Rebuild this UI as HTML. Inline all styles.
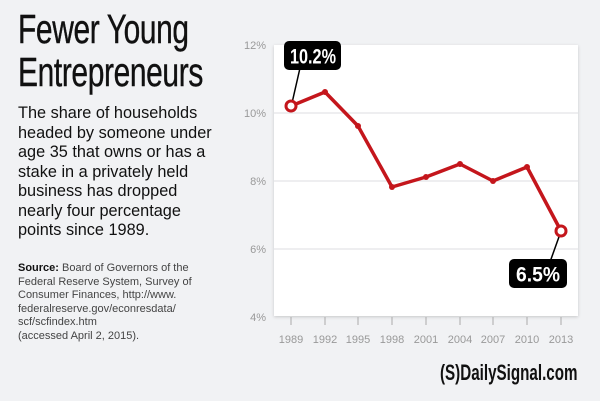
<!DOCTYPE html>
<html><head><style>
html,body{margin:0;padding:0}
body{width:600px;height:401px;background:#f1f2f4;position:relative;overflow:hidden;font-family:"Liberation Sans",sans-serif;color:#111}
.t{position:absolute;left:18px;top:8px;font-family:"Liberation Sans Narrow","Liberation Sans",sans-serif;font-size:41px;line-height:43px;transform:scaleX(0.73);transform-origin:0 0;white-space:nowrap;letter-spacing:-0.5px;-webkit-text-stroke:0.4px #111}
.b{position:absolute;left:18px;top:104px;font-size:16.3px;line-height:19.5px;width:220px;white-space:nowrap}
.s{position:absolute;left:18px;top:262px;font-size:11px;line-height:13.5px;color:#444;white-space:nowrap}
.logo{position:absolute;left:440px;top:360px;font-family:"Liberation Sans Narrow","Liberation Sans",sans-serif;font-weight:bold;font-size:22px;white-space:nowrap;transform:scaleX(0.69);transform-origin:0 0}
</style></head><body>
<div class="t">Fewer Young<br>Entrepreneurs</div>
<div class="b">The share of households<br>headed by someone under<br>age 35 that owns or has a<br>stake in a privately held<br>business has dropped<br>nearly four percentage<br>points since 1989.</div>
<div class="s"><b style="color:#111">Source:</b> Board of Governors of the<br>Federal Reserve System, Survey of<br>Consumer Finances, http://www.<br>federalreserve.gov/econresdata/<br>scf/scfindex.htm<br>(accessed April 2, 2015).</div>
<svg width="600" height="401" style="position:absolute;left:0;top:0">
<defs><filter id="sh" x="-5%" y="-5%" width="110%" height="110%"><feDropShadow dx="0" dy="1" stdDeviation="1.5" flood-color="#000" flood-opacity="0.18"/></filter></defs>
<rect x="274" y="45" width="304" height="271" fill="#fff" filter="url(#sh)"/>
<g stroke="#e4e4e6" stroke-width="1.2">
<line x1="274" x2="578" y1="113" y2="113"/><line x1="274" x2="578" y1="181" y2="181"/><line x1="274" x2="578" y1="249" y2="249"/>
</g>
<g font-size="11" fill="#999" text-anchor="end">
<text x="266" y="49">12%</text><text x="266" y="117">10%</text><text x="266" y="185">8%</text><text x="266" y="253">6%</text><text x="266" y="321">4%</text>
</g>
<g stroke="#aaa" stroke-width="1">
<line x1="291" x2="291" y1="317" y2="325"/><line x1="325" x2="325" y1="317" y2="325"/><line x1="358" x2="358" y1="317" y2="325"/><line x1="392" x2="392" y1="317" y2="325"/><line x1="426" x2="426" y1="317" y2="325"/><line x1="460" x2="460" y1="317" y2="325"/><line x1="493" x2="493" y1="317" y2="325"/><line x1="527" x2="527" y1="317" y2="325"/><line x1="561" x2="561" y1="317" y2="325"/>
</g>
<g font-size="11" fill="#999" text-anchor="middle">
<text x="291" y="343">1989</text><text x="325" y="343">1992</text><text x="358" y="343">1995</text><text x="392" y="343">1998</text><text x="426" y="343">2001</text><text x="460" y="343">2004</text><text x="493" y="343">2007</text><text x="527" y="343">2010</text><text x="561" y="343">2013</text>
</g>
<polyline points="291,106 325,92 358,126 392,187 426,177 460,164 493,181 527,167 561,231" fill="none" stroke="#c4161c" stroke-width="3.5" stroke-linejoin="round"/>
<g fill="#c4161c"><circle cx="325" cy="92" r="3"/><circle cx="358" cy="126" r="3"/><circle cx="392" cy="187" r="3"/><circle cx="426" cy="177" r="3"/><circle cx="460" cy="164" r="3"/><circle cx="493" cy="181" r="3"/><circle cx="527" cy="167" r="3"/></g>
<line x1="292" y1="103" x2="300" y2="68" stroke="#000" stroke-width="1.5"/>
<line x1="560" y1="234" x2="550" y2="262" stroke="#000" stroke-width="1.5"/>
<circle cx="291" cy="106" r="5" fill="#fff" stroke="#c4161c" stroke-width="3"/>
<circle cx="561" cy="231" r="5" fill="#fff" stroke="#c4161c" stroke-width="3"/>
<rect x="284" y="41" width="57" height="29" rx="5" fill="#000"/>
<rect x="509" y="259" width="58" height="29" rx="5" fill="#000"/>
<g font-family="Liberation Sans Narrow, Liberation Sans, sans-serif" font-weight="bold" font-size="21" fill="#fff">
<text x="290" y="63.5" textLength="46" lengthAdjust="spacingAndGlyphs">10.2%</text><text x="516" y="281.5" textLength="44" lengthAdjust="spacingAndGlyphs">6.5%</text>
</g>
</svg>
<div class="logo">(S)DailySignal.com</div>
</body></html>
